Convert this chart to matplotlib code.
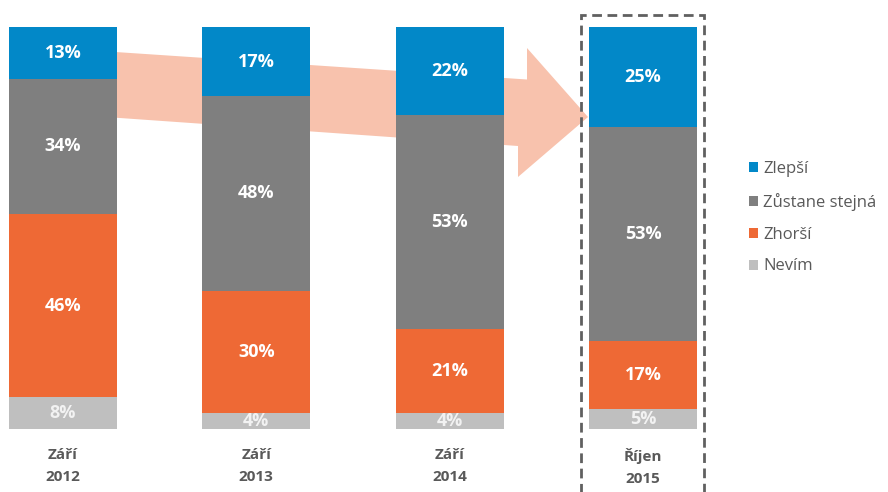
import numpy as np
import matplotlib.pyplot as plt
from matplotlib.patches import Polygon, Rectangle

periods = ["Září\n2012", "Září\n2013", "Září\n2014", "Říjen\n2015"]
series = ["Zlepší", "Zůstane stejná", "Zhorší", "Nevím"]
zlepsi = [13, 17, 22, 25]
zustane = [34, 48, 53, 53]
zhorsi = [46, 30, 21, 17]
nevim = [8, 4, 4, 5]
colors = ["#0288C8", "#7F7F7F", "#EE6935", "#BFBFBF"]

plt.rcParams['font.family'] = ['Open Sans', 'DejaVu Sans']

W, H = 888, 492
fig = plt.figure(figsize=(W / 100, H / 100), dpi=100)

# axes placed so bars land where they are in the reference
x0, step = 63, 193.33
ax_left, ax_right = 0, 720
ax = fig.add_axes([ax_left / W, (H - 429) / H, (ax_right - ax_left) / W, 402 / H])
ax.set_xlim((ax_left - x0) / step, (ax_right - x0) / step)
ax.set_ylim(0, 100)
ax.axis('off')

vals = np.array([zlepsi, zustane, zhorsi, nevim], dtype=float)
shares = vals / vals.sum(axis=0) * 100
x = np.arange(len(periods))
width = 108 / step

# big salmon arrow behind the bars
def px(p):
    return ((p[0] - x0) / step, (429 - p[1]) / 402 * 100)

arrow_px = [(63, 48.5), (527, 79.5), (527, 48), (588, 117),
            (518, 177), (518, 146), (63, 114)]
ax.add_patch(Polygon([px(p) for p in arrow_px], closed=True,
                     facecolor="#F8C2AD", edgecolor="none", zorder=1))

top = np.full(len(periods), 100.0)
for i, name in enumerate(series):
    bottom = top - shares[i]
    ax.bar(x, shares[i], width, bottom=bottom, color=colors[i],
           label=name, zorder=2)
    for j in range(len(periods)):
        tc = "#F2F2F2" if i == 3 else "white"
        ax.text(x[j], bottom[j] + shares[i][j] / 2, f"{int(vals[i][j])}%",
                ha='center', va='center', color=tc, fontsize=13,
                fontweight='bold', zorder=3)
    top = bottom

for j, lab in enumerate(periods):
    ax.text(x[j], -4.8, lab, ha='center', va='top', color="#595959",
            fontsize=11, fontweight='bold', linespacing=1.7,
            clip_on=False)

# dashed frame around the latest bar
fig.patches.append(Rectangle((581 / W, -0.05), 123 / W, (H - 15) / H + 0.05,
                             transform=fig.transFigure, fill=False,
                             edgecolor="#606060", linestyle=(0, (3.5, 2)),
                             linewidth=2))

fig.legend(loc='upper left', bbox_to_anchor=(734 / W, 1 - 146 / H),
           frameon=False, fontsize=12, labelcolor="#595959",
           handlelength=0.55, handleheight=0.55, handletextpad=0.3,
           labelspacing=0.95)

fig.savefig("out.png", dpi=100)
